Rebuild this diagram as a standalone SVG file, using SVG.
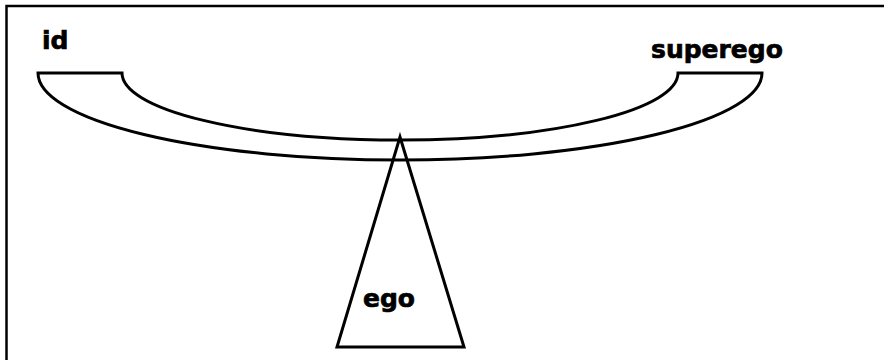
<svg xmlns="http://www.w3.org/2000/svg" width="884" height="360" viewBox="0 0 884 360">
<style>
.ln{fill:none;stroke:#000;stroke-width:3;stroke-linejoin:miter}
.lbl{font-family:"DejaVu Sans",Verdana,sans-serif;font-weight:bold;font-size:25px;fill:#000;stroke:#000;stroke-width:0.7}
</style>
<rect width="884" height="360" fill="#fff"/>
<path d="M6.5,360 V6 H884" fill="none" stroke="#000" stroke-width="2.5"/>
<g id="connectors"></g>
<g id="beam">
<path class="ln" d="M122,73 H38 A362,87 0 0 0 762,73 H678 A278,67 0 0 1 122,73 Z"/>
</g>
<g id="fulcrum">
<path class="ln" d="M400,137 L337,347 H464 Z"/>
</g>
<g id="id-label"><text class="lbl" x="42" y="49">id</text></g>
<g id="superego-label"><text class="lbl" x="651" y="58">superego</text></g>
<g id="ego-label"><text class="lbl" x="363" y="307">ego</text></g>
</svg>
